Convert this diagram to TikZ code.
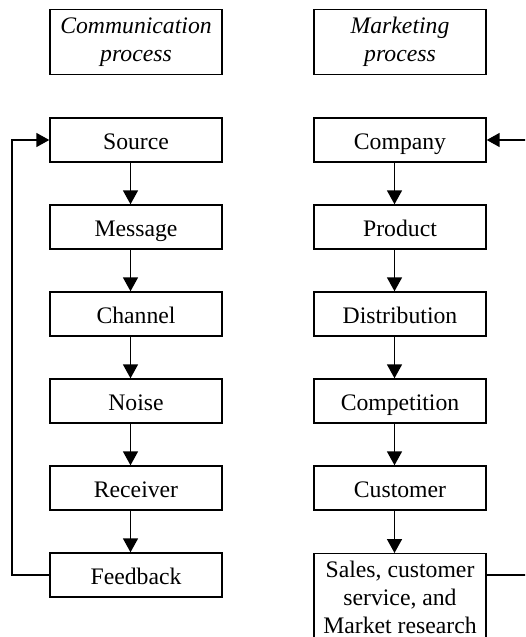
\documentclass[tikz,border=0pt]{standalone}
\usepackage{fontspec}
\setmainfont{Liberation Serif}
\usetikzlibrary{arrows.meta}
\begin{document}
\begin{tikzpicture}[x=1pt,y=1pt,
 basebox/.style={draw,line width=1.4pt,minimum width=172pt,inner sep=0pt,font=\fontsize{23.7}{28}\selectfont},
 box/.style={basebox,minimum height=44pt,text height=20pt,text depth=2pt},
 titlebox/.style={basebox,minimum height=65pt,font=\fontsize{23.7}{28}\selectfont\itshape,align=center},
 flow/.style={line width=1.6pt,-{Triangle[length=14pt,width=15pt]}},
 loopflow/.style={line width=1.6pt,-{Triangle[length=13pt,width=14pt]}}]
\useasboundingbox (0,0) rectangle (525,-637);
\clip (0,0) rectangle (525,-637);
% titles
\node[titlebox] (t1) at (136,-42) {Communication\\process};
\node[titlebox] (t2) at (400,-42) {Marketing\\process};
% left column
\node[box] (src) at (136,-140) {Source};
\node[box] (msg) at (136,-227) {Message};
\node[box] (chn) at (136,-314) {Channel};
\node[box] (noi) at (136,-401) {Noise};
\node[box] (rcv) at (136,-488) {Receiver};
\node[box] (fbk) at (136,-575) {Feedback};
% right column
\node[box] (cmp) at (400,-140) {Company};
\node[box] (prd) at (400,-227) {Product};
\node[box] (dst) at (400,-314) {Distribution};
\node[box] (cpt) at (400,-401) {Competition};
\node[box] (cst) at (400,-488) {Customer};
\node[basebox,anchor=north,align=center,inner ysep=7pt] (sls) at (400,-553) {Sales, customer\\service, and\\Market research};
% arrows
\foreach \a/\b in {src/msg,msg/chn,chn/noi,noi/rcv,rcv/fbk,cmp/prd,prd/dst,dst/cpt,cpt/cst,cst/sls}
  \draw[flow] ([xshift=-5.5pt]\a.south) -- ([xshift=-5.5pt]\b.north);
% feedback loops
\coordinate (lx) at (12,0);
\coordinate (rx) at (540,0);
\draw[loopflow] (fbk.west) -- (fbk.west -| lx) -- (src.west -| lx) -- (src.west);
\coordinate (slsout) at ([yshift=-22pt]sls.north east);
\draw[loopflow] (slsout) -- (slsout -| rx) -- (cmp.east -| rx) -- (cmp.east);
\end{tikzpicture}
\end{document}
